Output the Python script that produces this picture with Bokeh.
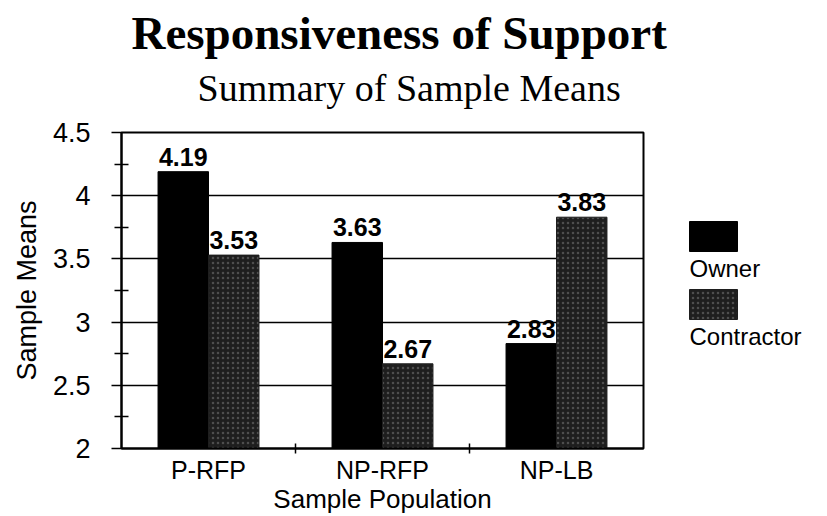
from bokeh.plotting import figure
from bokeh.models import Range1d, FixedTicker, Title, NumeralTickFormatter
from bokeh.layouts import row
from bokeh.embed import file_html
from bokeh.resources import INLINE
from bokeh.core.properties import value

# ---- data ----
categories = ["P-RFP", "NP-RFP", "NP-LB"]
owner = [4.19, 3.63, 2.83]
contractor = [3.53, 2.67, 3.83]
series_names = ["Owner", "Contractor"]
y_ticks = [2, 2.5, 3, 3.5, 4, 4.5]
y_minor_ticks = [2.25, 2.75, 3.25, 3.75, 4.25]
title_text = "Responsiveness of Support"
subtitle_text = "Summary of Sample Means"

SANS = "Liberation Sans"
SERIF = "Liberation Serif"
OWNER_COLOR = "#000000"
CONTR_COLOR = "#1e1e1e"

FW, FH = 522, 316          # frame size
TOP = 132                  # space above frame

centers = [i + 0.5 for i in range(len(categories))]
boundaries = [float(i) for i in range(1, len(categories))]
bw = 0.29
owner_x = [c - bw / 2 for c in centers]
contr_x = [c + bw / 2 for c in centers]

p = figure(frame_width=FW, frame_height=FH,
           x_range=Range1d(0, len(categories)), y_range=Range1d(y_ticks[0], y_ticks[-1]),
           output_backend="svg", toolbar_location=None,
           min_border_left=121, min_border_right=37, min_border_top=TOP, min_border_bottom=40)

p.vbar(x=owner_x, top=owner, bottom=y_ticks[0], width=bw,
       fill_color=OWNER_COLOR, line_color=OWNER_COLOR)
p.vbar(x=contr_x, top=contractor, bottom=y_ticks[0], width=bw,
       fill_color=CONTR_COLOR, line_color=CONTR_COLOR,
       hatch_pattern="dot", hatch_color="#8a8a8a", hatch_scale=5, hatch_weight=1, hatch_alpha=0.45)

lab_font = dict(text_font=value(SANS), text_font_size="25px", text_font_style="bold",
                text_align="center", text_baseline="bottom", y_offset=-6, text_color="black")
p.text(x=owner_x, y=owner, text=[f"{v:.2f}" for v in owner], **lab_font)
p.text(x=contr_x, y=contractor, text=[f"{v:.2f}" for v in contractor], **lab_font)

# x axis
xa = p.xaxis[0]
xa.ticker = FixedTicker(ticks=centers, minor_ticks=boundaries)
xa.major_label_overrides = {c: name for c, name in zip(centers, categories)}
xa.major_tick_line_color = None
xa.major_tick_in = 0
xa.major_tick_out = 0
xa.minor_tick_in = 5
xa.minor_tick_out = 5
xa.minor_tick_line_width = 1.5
xa.minor_tick_line_color = "black"
xa.axis_line_width = 2
xa.axis_line_color = "black"
xa.major_label_text_font = SANS
xa.major_label_text_font_size = "25px"
xa.major_label_text_color = "black"
xa.major_label_standoff = 2
xa.axis_label = "Sample Population"
xa.axis_label_text_font = SANS
xa.axis_label_text_font_size = "26px"
xa.axis_label_text_font_style = "normal"
xa.axis_label_text_color = "black"
xa.axis_label_standoff = -3

# y axis
ya = p.yaxis[0]
ya.ticker = FixedTicker(ticks=y_ticks, minor_ticks=y_minor_ticks)
ya.formatter = NumeralTickFormatter(format="0.[0]")
ya.major_tick_in = 0
ya.major_tick_out = 10
ya.major_tick_line_width = 1.5
ya.major_tick_line_color = "black"
ya.minor_tick_in = 7
ya.minor_tick_out = 7
ya.minor_tick_line_width = 1.5
ya.minor_tick_line_color = "black"
ya.axis_line_width = 2
ya.axis_line_color = "black"
ya.major_label_text_font = SANS
ya.major_label_text_font_size = "27px"
ya.major_label_text_color = "black"
ya.major_label_standoff = 21
ya.axis_label = "Sample Means"
ya.axis_label_text_font = SANS
ya.axis_label_text_font_size = "27px"
ya.axis_label_text_font_style = "normal"
ya.axis_label_text_color = "black"
ya.axis_label_standoff = 8

p.xgrid.grid_line_color = None
p.ygrid.ticker = FixedTicker(ticks=y_ticks)
p.ygrid.grid_line_color = "black"
p.ygrid.grid_line_width = 1.5
p.outline_line_color = "black"
p.outline_line_width = 2
p.outline_line_alpha = 1

# subtitle (closest to frame) and main title
p.add_layout(Title(text=subtitle_text, text_font=SERIF, text_font_size="38px",
                   text_font_style="normal", align="left", offset=76, standoff=48,
                   text_color="black"), "above")
p.add_layout(Title(text=title_text, text_font=SERIF, text_font_size="47px",
                   text_font_style="bold", align="left", offset=10, standoff=-36,
                   text_color="black"), "above")

# ---- legend panel (its frame is aligned with the main frame; y in figure pixels) ----
LW = 130
lg = figure(frame_width=LW, frame_height=FH, x_range=Range1d(0, LW),
            y_range=Range1d(TOP + FH, TOP),
            output_backend="svg", toolbar_location=None,
            x_axis_location=None, y_axis_location=None,
            min_border=0, min_border_top=TOP)
lg.outline_line_color = None
lg.grid.grid_line_color = None
sw_left, sw_w, sw_h = 9, 48, 30
sw_tops = [221, 289]
lg.quad(left=[sw_left], right=[sw_left + sw_w], top=[sw_tops[0]], bottom=[sw_tops[0] + sw_h],
        fill_color=OWNER_COLOR, line_color=OWNER_COLOR)
lg.quad(left=[sw_left], right=[sw_left + sw_w], top=[sw_tops[1]], bottom=[sw_tops[1] + sw_h],
        fill_color=CONTR_COLOR, line_color=CONTR_COLOR,
        hatch_pattern="dot", hatch_color="#8a8a8a", hatch_scale=5, hatch_weight=1, hatch_alpha=0.45)
lg.text(x=[sw_left, sw_left], y=[t + sw_h + 17 for t in sw_tops], text=series_names,
        text_font=value(SANS), text_font_size="24px", text_baseline="alphabetic",
        text_align="left", text_color="black")

layout = row(p, lg)
open("out.html", "w").write(file_html(layout, INLINE))
